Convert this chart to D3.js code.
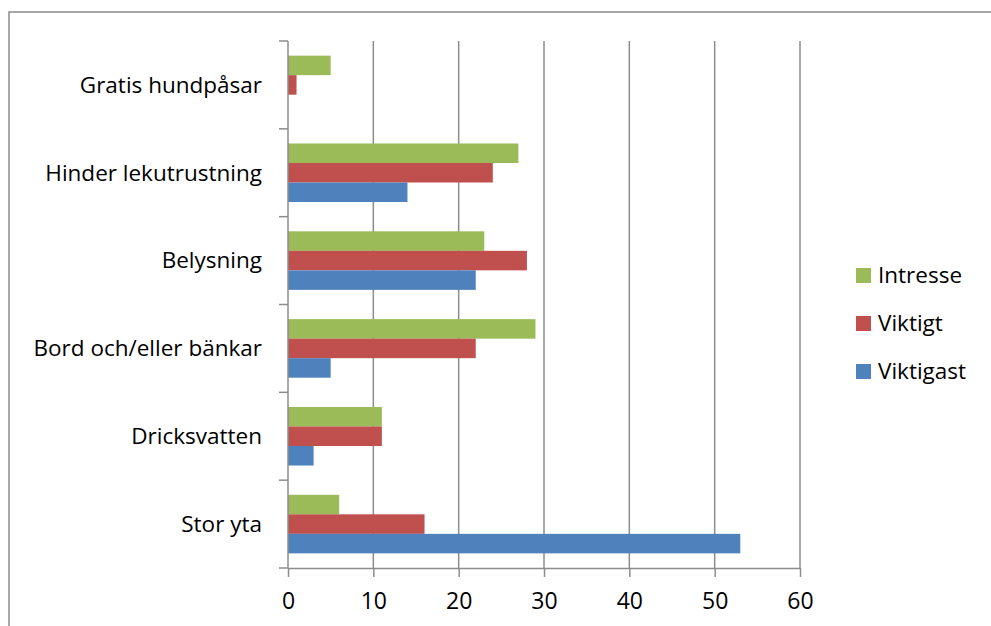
<!DOCTYPE html>
<html>
<head>
<meta charset="utf-8">
<script src="https://cdn.jsdelivr.net/npm/d3@7"></script>
<style>
  body { margin: 0; background: #fff; }
  svg { display: block; font-family: "Open Sans", sans-serif; }
</style>
</head>
<body>
<svg id="chart" width="991" height="626"></svg>
<script>
// categories top to bottom
var categories = ["Gratis hundpåsar", "Hinder lekutrustning", "Belysning", "Bord och/eller bänkar", "Dricksvatten", "Stor yta"]
var seriesNames = ["Intresse", "Viktigt", "Viktigast"]
var intresse = [5, 27, 23, 29, 11, 6]
var viktigt = [1, 24, 28, 22, 11, 16]
var viktigast = [0, 14, 22, 5, 3, 53]
var xTicks = [0, 10, 20, 30, 40, 50, 60]

var colors = { "Intresse": "#9BBB59", "Viktigt": "#C0504D", "Viktigast": "#4F81BD" }
var seriesValues = { "Intresse": intresse, "Viktigt": viktigt, "Viktigast": viktigast }

var svg = d3.select("#chart")

// outer chart border
svg.append("rect")
    .attr("x", 9).attr("y", 12)
    .attr("width", 1000).attr("height", 700)
    .attr("fill", "none")
    .attr("stroke", "#8a8a8a")
    .attr("stroke-width", 1.5)

var plot = { left: 288, right: 800, top: 41, bottom: 568 }
var axisColor = "#8c8c8c"

var x = d3.scaleLinear().domain([0, 60]).range([plot.left, plot.right])
var y0 = d3.scaleBand().domain(categories).range([plot.top, plot.bottom])
var y1 = d3.scaleBand().domain(seriesNames).range([0, y0.bandwidth()]).paddingOuter(0.75)

// gridlines
svg.append("g")
    .selectAll("line")
    .data(xTicks.slice(1))
    .join("line")
    .attr("x1", d => x(d)).attr("x2", d => x(d))
    .attr("y1", plot.top).attr("y2", plot.bottom)
    .attr("stroke", axisColor)
    .attr("stroke-width", 1.5)

// bars
var groups = svg.append("g")
    .selectAll("g")
    .data(categories)
    .join("g")
    .attr("transform", d => `translate(0,${y0(d)})`)

groups.selectAll("rect")
    .data((c, i) => seriesNames.map(s => ({ series: s, value: seriesValues[s][i] })))
    .join("rect")
    .attr("x", x(0))
    .attr("y", d => y1(d.series))
    .attr("width", d => x(d.value) - x(0))
    .attr("height", y1.bandwidth())
    .attr("fill", d => colors[d.series])

// x axis
var xAxis = svg.append("g")
    .attr("transform", `translate(0,${plot.bottom})`)
    .call(d3.axisBottom(x).tickValues(xTicks).tickSize(9).tickPadding(16).tickSizeOuter(0))
xAxis.select(".domain").attr("stroke", axisColor).attr("stroke-width", 1.5)
xAxis.selectAll(".tick line").attr("stroke", axisColor).attr("stroke-width", 1.5)
xAxis.selectAll("text")
    .attr("fill", "#000")
    .style("font-size", "23px")
    .style("font-family", "Open Sans, sans-serif")

// y axis
var yTicks = categories.map(c => y0(c)).concat([plot.bottom])
svg.append("line")
    .attr("x1", plot.left).attr("x2", plot.left)
    .attr("y1", plot.top).attr("y2", plot.bottom)
    .attr("stroke", axisColor).attr("stroke-width", 1.5)
svg.append("g")
    .selectAll("line")
    .data(yTicks)
    .join("line")
    .attr("x1", plot.left - 9).attr("x2", plot.left)
    .attr("y1", d => d).attr("y2", d => d)
    .attr("stroke", axisColor).attr("stroke-width", 1.5)

svg.append("g")
    .selectAll("text")
    .data(categories)
    .join("text")
    .attr("x", 262)
    .attr("y", d => y0(d) + y0.bandwidth() / 2)
    .attr("dy", "0.35em")
    .attr("text-anchor", "end")
    .style("font-size", "22.5px")
    .text(d => d)

// legend
var legend = svg.append("g")
    .selectAll("g")
    .data(seriesNames)
    .join("g")
    .attr("transform", (d, i) => `translate(856,${275 + i * 48})`)

legend.append("rect")
    .attr("x", 0).attr("y", -7)
    .attr("width", 15).attr("height", 15)
    .attr("fill", d => colors[d])

legend.append("text")
    .attr("x", 22)
    .attr("dy", "0.35em")
    .style("font-size", "22.5px")
    .text(d => d)
</script>
</body>
</html>
